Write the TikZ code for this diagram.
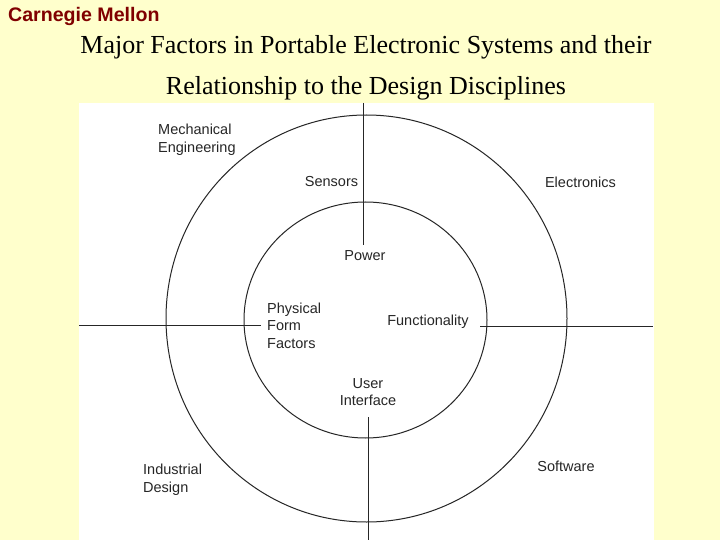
\documentclass[tikz,border=0pt]{standalone}
\usepackage{fontspec}
\setmainfont{Liberation Serif}
\newfontfamily\labelfont{Liberation Sans}
\definecolor{slidebg}{HTML}{FFFFCC}
\definecolor{cmured}{HTML}{800000}
\tikzset{
  factor/.style={font=\labelfont\fontsize{14.5}{17.5}\selectfont, text=black!85, inner sep=0pt, align=left},
  ring/.style={line width=1pt, draw=black!85},
  heading/.style={inner sep=0pt, font=\fontsize{26}{30}\selectfont},
}
\begin{document}
\begin{tikzpicture}[x=1pt,y=-1pt]

  % slide and white panel
  \fill[slidebg] (0,0) rectangle (720,540);
  \useasboundingbox (0,0) rectangle (720,540);
  \fill[white] (79,103) rectangle (654,540);

  % header and title
  \node[anchor=west, inner sep=0pt, text=cmured, font=\labelfont\bfseries\fontsize{19.6}{22}\selectfont] (cmu) at (8,16) {Carnegie Mellon};
  \node[heading] (title1) at (366,47.5) {Major Factors in Portable Electronic Systems and their};
  \node[heading] (title2) at (366,88.5) {Relationship to the Design Disciplines};

  % draw rings
  \draw[ring] (366.5,318.5) ellipse [x radius=200.5, y radius=203.5];
  \draw[ring] (365.5,320) ellipse [x radius=121.5, y radius=118];

  % draw dividers
  \coordinate (ntop) at (363,103);
  \coordinate (nend) at (363,245);
  \coordinate (sbeg) at (368,417);
  \coordinate (sbot) at (368,540);
  \coordinate (wout) at (79,325);
  \coordinate (wend) at (261,325);
  \coordinate (ebeg) at (480,326);
  \coordinate (eout) at (653,326);
  \draw[ring] (ntop) -- (nend);
  \draw[ring] (sbeg) -- (sbot);
  \draw[ring] (wout) -- (wend);
  \draw[ring] (ebeg) -- (eout);

  % disciplines
  \node[factor, anchor=west] (mech) at (158,140) {Mechanical\\Engineering};
  \node[factor] (elec) at (580.5,182) {Electronics};
  \node[factor, anchor=west] (indus) at (143,479.5) {Industrial\\Design};
  \node[factor] (soft) at (566,466) {Software};

  % factors
  \node[factor] (sensors) at (331.5,182) {Sensors};
  \node[factor] (power) at (365,255.5) {Power};
  \node[factor, anchor=west] (phys) at (267,325.5) {Physical\\Form\\Factors};
  \node[factor] (func) at (428,322) {Functionality};
  \node[factor, align=center] (ui) at (368,392) {User\\Interface};

\end{tikzpicture}
\end{document}
